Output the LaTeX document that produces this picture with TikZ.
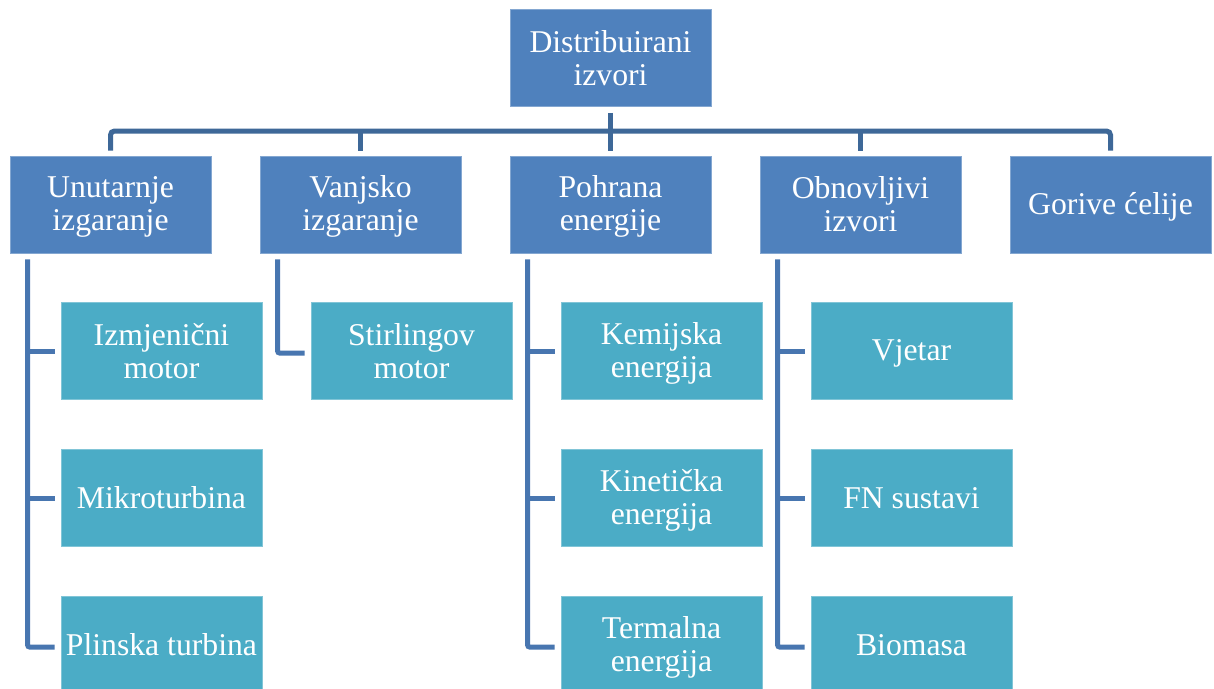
\documentclass[tikz,border=0pt]{standalone}
\usepackage{fontspec}
\setmainfont{Liberation Serif}
\definecolor{dark}{HTML}{4F81BD}
\definecolor{light}{HTML}{4BACC6}
\definecolor{lineup}{HTML}{3E6898}
\definecolor{linedn}{HTML}{4876B0}
\newcommand\bst{\rule[-5pt]{0pt}{31pt}}
\tikzset{
  box/.style={rectangle, minimum width=201pt, minimum height=97pt, inner sep=2pt,
    text=white, align=center, font=\fontsize{31.7}{33}\selectfont, line width=0.8pt},
  darkbox/.style={box, fill=dark, draw=dark!70!white},
  lightbox/.style={box, fill=light, draw=light!70!white},
  upline/.style={draw=lineup, line width=5pt, rounded corners=4pt},
  dnline/.style={draw=linedn, line width=5pt, rounded corners=2pt},
}
\begin{document}
\begin{tikzpicture}[x=1pt,y=-1pt]
\clip (0,0) rectangle (1214,688);
\fill[white] (0,0) rectangle (1214,688);
% top
\node[darkbox] (top) at (610.5,58) {\bst Distribuirani\\\bst izvori};
% level 1
\node[darkbox] (a) at (110.5,204.5) {\bst Unutarnje\\\bst izgaranje};
\node[darkbox] (b) at (360.5,204.5) {\bst Vanjsko\\\bst izgaranje};
\node[darkbox] (c) at (610.5,204.5) {\bst Pohrana\\\bst energije};
\node[darkbox] (d) at (860.5,204.5) {\bst Obnovljivi\\\bst izvori};
\node[darkbox] (e) at (1110.5,204.5) {\bst Gorive ćelije};
% level 2
\node[lightbox] (a1) at (161.5,351) {\bst Izmjenični\\\bst motor};
\node[lightbox] (a2) at (161.5,498) {\bst Mikroturbina};
\node[lightbox] (a3) at (161.5,645) {\bst Plinska turbina};
\node[lightbox] (b1) at (411.5,351) {\bst Stirlingov\\\bst motor};
\node[lightbox] (c1) at (661.5,351) {\bst Kemijska\\\bst energija};
\node[lightbox] (c2) at (661.5,498) {\bst Kinetička\\\bst energija};
\node[lightbox] (c3) at (661.5,645) {\bst Termalna\\\bst energija};
\node[lightbox] (d1) at (911.5,351) {\bst Vjetar};
\node[lightbox] (d2) at (911.5,498) {\bst FN sustavi};
\node[lightbox] (d3) at (911.5,645) {\bst Biomasa};
% upper connectors
\coordinate (bar) at (610.5,131);
\draw[upline] ([yshift=-6pt]top.south) -- ([yshift=5pt]c.north);
\draw[upline] ([yshift=5pt]a.north) |- (bar) -| ([yshift=5pt]e.north);
\draw[upline] ([yshift=5pt]b.north) -- (b.north |- bar);
\draw[upline] ([yshift=5pt]d.north) -- (d.north |- bar);
% lower connectors
\foreach \p/\q in {a/a3,c/c3,d/d3}{
  \draw[dnline] ([xshift=18pt,yshift=-6pt]\p.south west) |- ([xshift=-6pt,yshift=-2pt]\q.west);
}
\draw[dnline] ([xshift=18pt,yshift=-6pt]b.south west) |- ([xshift=-6pt,yshift=-2pt]b1.west);
\foreach \p/\q in {a/a1,a/a2,c/c1,c/c2,d/d1,d/d2}{
  \draw[dnline] ([xshift=18pt]\p.south west |- \q.west) -- ([xshift=-6pt]\q.west);
}
\end{tikzpicture}
\end{document}
